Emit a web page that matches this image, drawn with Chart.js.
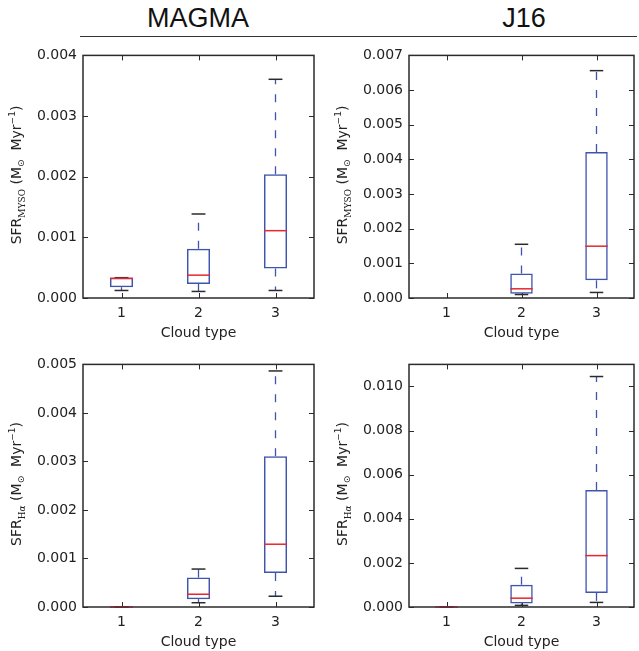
<!DOCTYPE html>
<html lang="en">
<head>
  <meta charset="UTF-8" />
  <title>SFR by cloud type</title>
  <script src="https://cdn.jsdelivr.net/npm/chart.js"></script>
  <style>
    body {
      margin: 0;
      width: 639px;
      height: 651px;
      overflow: hidden;
      background: #fff;
      font-family: "DejaVu Sans", sans-serif;
      position: relative;
    }
    canvas { position: absolute; }
    .head {
      position: absolute;
      top: 3px;
      font: 27px "Liberation Sans", Arial, sans-serif;
      color: #111;
      transform: translateX(-50%);
    }
    .rule {
      position: absolute;
      left: 80px;
      top: 36px;
      width: 557px;
      height: 0;
      border-top: 1.5px solid #333;
    }
    .ytitle {
      position: absolute;
      transform: translate(-50%, -50%) rotate(-90deg);
      white-space: nowrap;
      font-size: 14px;
      color: #222;
    }
    .ytitle sub { font-family: "DejaVu Serif", serif; font-size: 9px; }
    .ytitle sup { font-size: 9px; }
    .ytitle .sun { font-size: 9px; vertical-align: -3px; }
  </style>
</head>
<body>

  <div class="head" style="left:198px">MAGMA</div>
  <div class="head" style="left:524px">J16</div>
  <div class="rule"></div>

  <canvas id="magmaMyso" width="319" height="301" style="left:0; top:41px"></canvas>
  <canvas id="j16Myso" width="313" height="301" style="left:326px; top:41px"></canvas>
  <canvas id="magmaHa" width="319" height="301" style="left:0; top:350px"></canvas>
  <canvas id="j16Ha" width="313" height="301" style="left:326px; top:350px"></canvas>

  <div class="ytitle" style="left:17px; top:175px">SFR<sub>MYSO</sub> (M<span class="sun">⊙</span>&nbsp; Myr<sup>−1</sup>)</div>
  <div class="ytitle" style="left:343px; top:175px">SFR<sub>MYSO</sub> (M<span class="sun">⊙</span>&nbsp; Myr<sup>−1</sup>)</div>
  <div class="ytitle" style="left:17px; top:484px">SFR<sub>H<i>α</i></sub> (M<span class="sun">⊙</span>&nbsp; Myr<sup>−1</sup>)</div>
  <div class="ytitle" style="left:343px; top:484px">SFR<sub>H<i>α</i></sub> (M<span class="sun">⊙</span>&nbsp; Myr<sup>−1</sup>)</div>

<script>
  // categories
  const cloudTypes = ['1', '2', '3'];

  // MAGMA, SFR_MYSO
  const magmaMysoLo  = [0.000124, 0.000108, 0.000124];
  const magmaMysoQ1  = [0.000178, 0.000232, 0.000485];
  const magmaMysoMed = [0.000325, 0.000377, 0.00111];
  const magmaMysoQ3  = [0.000335, 0.000814, 0.00204];
  const magmaMysoHi  = [0.000335, 0.001385, 0.003606];

  // J16, SFR_MYSO (no type 1 clouds)
  const j16MysoLo  = [null, 0.0001, 0.00016];
  const j16MysoQ1  = [null, 0.000123, 0.00051];
  const j16MysoMed = [null, 0.000265, 0.001495];
  const j16MysoQ3  = [null, 0.00071, 0.00421];
  const j16MysoHi  = [null, 0.00155, 0.00656];

  // MAGMA, SFR_Halpha
  const magmaHaLo  = [0, 0.000088, 0.000222];
  const magmaHaQ1  = [0, 0.000162, 0.000701];
  const magmaHaMed = [0, 0.000263, 0.001294];
  const magmaHaQ3  = [0, 0.000606, 0.003106];
  const magmaHaHi  = [0, 0.000782, 0.004865];

  // J16, SFR_Halpha
  const j16HaLo  = [0, 0.000074, 0.000208];
  const j16HaQ1  = [0, 0.000163, 0.00064];
  const j16HaMed = [0, 0.0004, 0.00233];
  const j16HaQ3  = [0, 0.00101, 0.0053];
  const j16HaHi  = [0, 0.00175, 0.01045];

  // y axis limits / tick steps / last labelled tick
  const yMax  = { magmaMyso: 0.004, j16Myso: 0.007, magmaHa: 0.005, j16Ha: 0.011 };
  const yStep = { magmaMyso: 0.001, j16Myso: 0.001, magmaHa: 0.001, j16Ha: 0.002 };
  const yLastTick = { magmaMyso: 0.004, j16Myso: 0.007, magmaHa: 0.005, j16Ha: 0.010 };

  const BLUE = '#3f55ad';
  const RED = '#e8262e';
  const DARK = '#2b2b2b';

  // frame + inward ticks on all four sides (matplotlib classic look)
  const framePlugin = {
    id: 'frame',
    beforeDatasetsDraw(chart) {
      const { ctx, chartArea: a, scales: { x, y } } = chart;
      ctx.save();
      ctx.strokeStyle = DARK;
      ctx.lineWidth = 1;
      y.ticks.forEach(t => {
        const py = Math.round(y.getPixelForValue(t.value)) + 0.5;
        ctx.beginPath();
        ctx.moveTo(a.left, py); ctx.lineTo(a.left + 5, py);
        ctx.moveTo(a.right, py); ctx.lineTo(a.right - 5, py);
        ctx.stroke();
      });
      cloudTypes.forEach((c, i) => {
        const px = Math.round(x.getPixelForValue(i)) + 0.5;
        ctx.beginPath();
        ctx.moveTo(px, a.bottom); ctx.lineTo(px, a.bottom - 5);
        ctx.moveTo(px, a.top); ctx.lineTo(px, a.top + 5);
        ctx.stroke();
      });
      ctx.lineWidth = 1.5;
      ctx.strokeRect(a.left, a.top, a.right - a.left, a.bottom - a.top);
      ctx.restore();
    }
  };

  // whiskers, caps and medians drawn from the stats through the chart scales
  const boxPlugin = {
    id: 'boxStats',
    afterDatasetsDraw(chart, args, opts) {
      const { ctx, scales: { x, y } } = chart;
      const bars = chart.getDatasetMeta(0).data;
      ctx.save();
      opts.med.forEach((m, i) => {
        if (m == null) return;
        const cx = x.getPixelForValue(i);
        const hw = bars[i].width / 2;
        const cap = bars[i].width * 0.3;

        ctx.strokeStyle = BLUE;
        ctx.lineWidth = 1.3;
        ctx.setLineDash([8, 10]);
        ctx.beginPath();
        ctx.moveTo(cx, y.getPixelForValue(opts.q3[i]));
        ctx.lineTo(cx, y.getPixelForValue(opts.hi[i]));
        ctx.stroke();
        ctx.beginPath();
        ctx.moveTo(cx, y.getPixelForValue(opts.q1[i]));
        ctx.lineTo(cx, y.getPixelForValue(opts.lo[i]));
        ctx.stroke();
        ctx.setLineDash([]);

        ctx.strokeStyle = DARK;
        ctx.lineWidth = 1.5;
        [opts.lo[i], opts.hi[i]].forEach(v => {
          const py = y.getPixelForValue(v);
          ctx.beginPath();
          ctx.moveTo(cx - cap, py); ctx.lineTo(cx + cap, py);
          ctx.stroke();
        });

        // collapsed boxes sit on the axis, where the colours mix to a dark red
        ctx.strokeStyle = (opts.q3[i] === opts.q1[i]) ? '#7a2a3e' : RED;
        const pm = y.getPixelForValue(m);
        ctx.beginPath();
        ctx.moveTo(cx - hw, pm); ctx.lineTo(cx + hw, pm);
        ctx.stroke();
      });
      ctx.restore();
    }
  };

  function makePanel(id, lo, q1, med, q3, hi) {
    const ctx = document.getElementById(id).getContext('2d');
    return new Chart(ctx, {
      type: 'bar',
      data: {
        labels: cloudTypes,
        datasets: [{
          data: q1.map((v, i) => v == null ? null : [v, q3[i]]),
          backgroundColor: 'rgba(255,255,255,0)',
          borderColor: BLUE,
          borderWidth: 1.5,
          borderSkipped: false,
          barPercentage: 0.3,
          categoryPercentage: 1
        }]
      },
      options: {
        responsive: false,
        animation: false,
        layout: { padding: { top: 10, right: 5, left: 0, bottom: 0 } },
        plugins: {
          legend: { display: false },
          tooltip: { enabled: false },
          boxStats: { lo, q1, med, q3, hi }
        },
        scales: {
          x: {
            grid: { display: false, drawTicks: false },
            border: { display: false },
            ticks: { color: '#222', font: { family: 'DejaVu Sans', size: 14 }, padding: 7 },
            title: {
              display: true, text: 'Cloud type', color: '#222',
              font: { family: 'DejaVu Sans', size: 14 }, padding: { top: 2, bottom: 0 }
            },
            afterFit(s) { s.height = 44; }
          },
          y: {
            min: 0,
            max: yMax[id],
            grid: { display: false, drawTicks: false },
            border: { display: false },
            ticks: {
              stepSize: yStep[id],
              color: '#222',
              font: { family: 'DejaVu Sans', size: 14 },
              padding: 6,
              callback: v => v.toFixed(3)
            },
            afterBuildTicks(s) {
              s.ticks = s.ticks.filter(t => t.value <= yLastTick[id] + 1e-9);
            },
            afterFit(s) { s.width = 83; }
          }
        }
      },
      plugins: [framePlugin, boxPlugin]
    });
  }

  makePanel('magmaMyso', magmaMysoLo, magmaMysoQ1, magmaMysoMed, magmaMysoQ3, magmaMysoHi);
  makePanel('j16Myso', j16MysoLo, j16MysoQ1, j16MysoMed, j16MysoQ3, j16MysoHi);
  makePanel('magmaHa', magmaHaLo, magmaHaQ1, magmaHaMed, magmaHaQ3, magmaHaHi);
  makePanel('j16Ha', j16HaLo, j16HaQ1, j16HaMed, j16HaQ3, j16HaHi);
</script>
</body>
</html>
